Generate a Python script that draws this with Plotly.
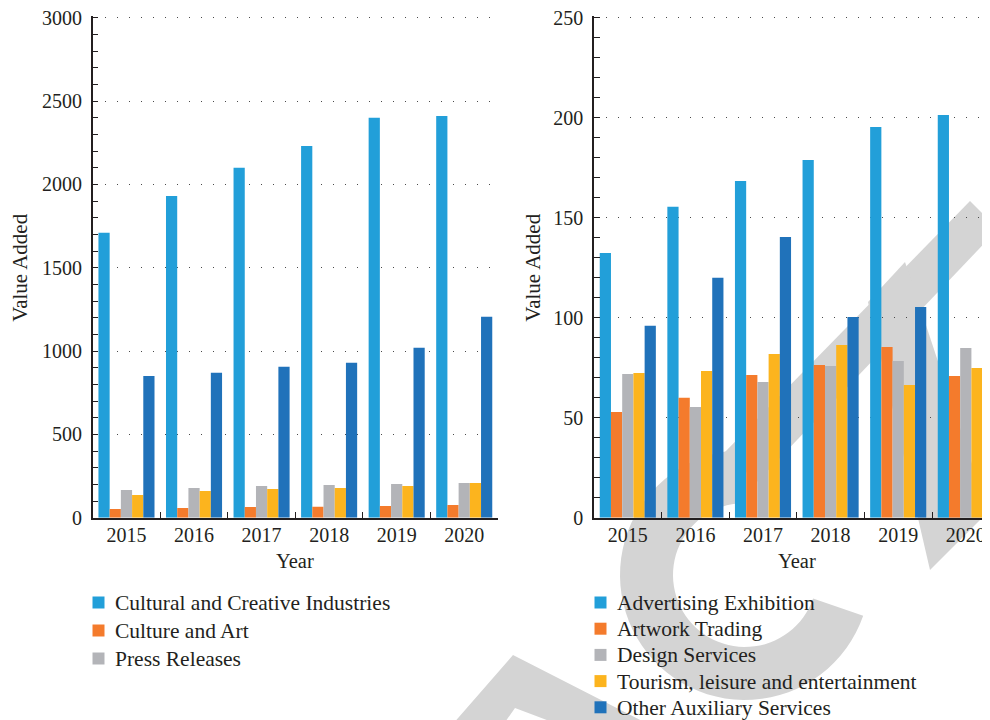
import numpy as np
import plotly.graph_objects as go

# ---------------- data ----------------
years = ["2015", "2016", "2017", "2018", "2019", "2020"]

left_names = ["Cultural and Creative Industries", "Culture and Art", "Press Releases",
              "Tourism, leisure and entertainment", "Other Auxiliary Services"]
cultural_creative = [1710, 1930, 2100, 2230, 2400, 2410]
culture_art = [52, 58, 64, 65, 70, 76]
press_releases = [166, 178, 190, 196, 202, 208]
left_tourism = [136, 160, 172, 178, 190, 208]
left_other = [850, 870, 905, 930, 1020, 1205]
left_legend_count = 3   # the reference legend lists only the first three

right_names = ["Advertising Exhibition", "Artwork Trading", "Design Services",
               "Tourism, leisure and entertainment", "Other Auxiliary Services"]
advertising = [132.3, 155.5, 168.3, 178.8, 195.3, 201.3]
artwork = [52.8, 60.0, 71.3, 76.3, 85.3, 70.8]
design = [71.8, 55.3, 67.8, 75.8, 78.3, 84.8]
tourism = [72.3, 73.3, 81.8, 86.3, 66.3, 74.8]
other = [96.0, 120.0, 140.3, 100.3, 105.3, 132.3]

left_ticks = [0, 500, 1000, 1500, 2000, 2500, 3000]
right_ticks = [0, 50, 100, 150, 200, 250]

colors = ["#229fd9", "#f47b2c", "#b3b4b8", "#fcb41e", "#2072ba"]

# ---------------- layout helpers ----------------
OFF = 8                     # page body margin
W, H = 990 - OFF, 720 - OFF
FONT = "Liberation Serif"
TXT = "#231f20"


def px(x):
    """screen pixel x -> paper x"""
    return (x - OFF) / W


def py(y):
    """screen pixel y -> paper y"""
    return 1 - (y - OFF) / H


fig = go.Figure()

left_vals = [cultural_creative, culture_art, press_releases, left_tourism, left_other]
for name, vals, col in zip(left_names, left_vals, colors):
    fig.add_trace(go.Bar(x=years, y=vals, name=name, marker=dict(color=col, line=dict(width=0)),
                         xaxis="x", yaxis="y", showlegend=False))

right_vals = [advertising, artwork, design, tourism, other]
for name, vals, col in zip(right_names, right_vals, colors):
    fig.add_trace(go.Bar(x=years, y=vals, name=name, marker=dict(color=col, line=dict(width=0)),
                         xaxis="x2", yaxis="y2", showlegend=False))

tickfont = dict(family=FONT, size=20, color=TXT)
xcommon = dict(type="category", showline=True, linecolor=TXT, linewidth=1.5,
               ticks="inside", tickson="boundaries", ticklen=6, tickcolor=TXT, tickwidth=1.2,
               tickfont=tickfont, showgrid=False, zeroline=False, automargin=False,
               ticklabelstandoff=-1, ticklabeloverflow="allow", fixedrange=True)
ycommon = dict(showline=True, linecolor=TXT, linewidth=1.5, ticks="inside", ticklen=6,
               tickcolor=TXT, tickwidth=1.2, tickfont=tickfont, showgrid=True,
               gridcolor="#4a4a4a", gridwidth=1.1, griddash="1px,11px", zeroline=False,
               automargin=False, ticklabelstandoff=5, ticklabeloverflow="allow", fixedrange=True)

# plot top a little above the highest tick so its grid line is kept
Y0, YTOP = 517.7, 15.7
fig.update_layout(
    width=W, height=H,
    margin=dict(l=0, r=0, t=0, b=0),
    paper_bgcolor="white", plot_bgcolor="rgba(0,0,0,0)",
    template="none",
    showlegend=False,
    barmode="group", bargap=0.17, bargroupgap=0,
    font=dict(family=FONT, color=TXT),
    xaxis=dict(domain=[px(92.7), px(498)], range=[-0.5, 5.5], anchor="y", **xcommon),
    yaxis=dict(domain=[py(Y0), py(YTOP)], range=[0, 3012], tickvals=left_ticks,
               minor=dict(dtick=100, ticks="inside", ticklen=6, tickcolor=TXT, showgrid=False),
               anchor="x", **ycommon),
    xaxis2=dict(domain=[px(594), 1.0], range=[-0.5, -0.5 + (990 - 594) / 67.6], anchor="y2", **xcommon),
    yaxis2=dict(domain=[py(Y0), py(YTOP)], range=[0, 251], tickvals=right_ticks,
                minor=dict(dtick=10, ticks="inside", ticklen=6, tickcolor=TXT, showgrid=False),
                anchor="x2", **ycommon),
)

# axis titles
for xx in (20, 533):
    fig.add_annotation(x=px(xx), y=py(267.7), xref="paper", yref="paper", text="Value Added",
                       textangle=-90, showarrow=False, xanchor="center", yanchor="middle",
                       font=dict(family=FONT, size=21, color=TXT))
for xx in (295.4, 796.8):
    fig.add_annotation(x=px(xx), y=py(561), xref="paper", yref="paper", text="Year",
                       showarrow=False, xanchor="center", yanchor="middle",
                       font=dict(family=FONT, size=20.5, color=TXT))

# legends (square key + label), laid out like the reference
legend_font = dict(family=FONT, size=21.5, color=TXT)


def add_legend(names, cols, key_x, text_x, y0, step):
    for i, (name, col) in enumerate(zip(names, cols)):
        yc = y0 + i * step
        fig.add_shape(type="rect", xref="paper", yref="paper",
                      x0=px(key_x), x1=px(key_x + 12), y0=py(yc - 6), y1=py(yc + 6),
                      fillcolor=col, line=dict(width=0), layer="above")
        fig.add_annotation(x=px(text_x), y=py(yc + 0.5), xref="paper", yref="paper", text=name,
                           xanchor="left", yanchor="middle", showarrow=False, font=legend_font)


add_legend(left_names[:left_legend_count], colors[:left_legend_count], 92.5, 113, 602.5, 28)
add_legend(right_names, colors, 594.5, 615, 602.5, 26.2)

# ---------------- light grey watermark (decoration) ----------------
WM = "#d4d4d4"


def poly(points):
    return "M " + " L ".join(f"{px(x):.5f},{py(y):.5f}" for x, y in points) + " Z"


wm_polys = [
    # "A"
    [(452, 725), (513, 655), (650, 725), (560, 725), (515, 708), (503, 725)],
    # cap-line band
    [(725, 452), (970, 201), (998, 229), (757, 482)],
    # "T" stem
    [(868, 302), (905, 262), (988, 512), (930, 570)],
]
for p in wm_polys:
    fig.add_shape(type="path", path=poly(p), xref="paper", yref="paper",
                  fillcolor=WM, line=dict(width=0), layer="below")

# "C" ring
cx, cy, ro, ri = 745, 575, 125, 72
th = np.radians(np.linspace(19, 268, 60))
outer = [(cx + ro * np.cos(t), cy + ro * np.sin(t)) for t in th]
inner = [(cx + ri * np.cos(t), cy + ri * np.sin(t)) for t in th[::-1]]
fig.add_shape(type="path", path=poly(outer + inner), xref="paper", yref="paper",
              fillcolor=WM, line=dict(width=0), layer="below")

fig.write_html("out.html")
